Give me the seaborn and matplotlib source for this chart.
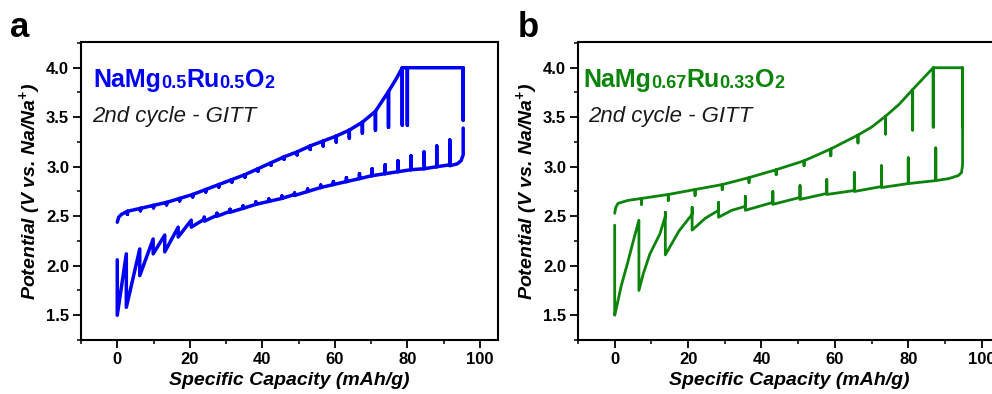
import numpy as np
import matplotlib
matplotlib.use('Agg')
import matplotlib.pyplot as plt
from matplotlib.ticker import MultipleLocator
import seaborn as sns

nan = np.nan

# ---- panel a : NaMg0.5Ru0.5O2 (blue) ----
# charge: capacity, potential at pulse end, potential after relaxation (nan = no relaxation)
a_chg_x = [0, 0.4, 1.2, 2.8, 6.4, 10.0, 13.6, 17.2, 20.8, 24.4, 28.0, 31.6, 35.2, 38.8, 42.4,
           46.0, 49.6, 53.2, 56.8, 60.4, 64.0, 67.6, 71.2, 74.8, 76.8, 78.6, 80.0, 95.4]
a_chg_v = [2.44, 2.49, 2.52, 2.55, 2.58, 2.61, 2.64, 2.68, 2.72, 2.77, 2.82, 2.87, 2.92, 2.98, 3.04,
           3.10, 3.15, 3.21, 3.26, 3.31, 3.37, 3.45, 3.56, 3.76, 3.88, 4.00, 4.00, 4.00]
a_chg_relax = [nan, nan, nan, 2.52, 2.555, 2.585, 2.615, 2.655, 2.695, 2.745, 2.795, 2.845, 2.895,
               2.955, 3.015, 3.075, 3.12, 3.175, 3.21, 3.25, 3.29, 3.34, 3.37, 3.40, nan, 3.42,
               3.42, 3.47]

# discharge (read right to left): pulse end, relaxed, start of next pulse
a_dis_x = [95.4, 95.4, 94.8, 93.8, 91.7, 88.1, 84.6, 81.0, 77.4, 73.9, 70.3, 66.8, 63.2, 59.6, 56.1,
           52.5, 48.9, 45.4, 41.8, 38.2, 34.7, 31.1, 27.5, 24.0, 20.4, 16.8, 13.1, 9.9, 6.2, 2.5, 0.0]
a_dis_v = [3.39, 3.12, 3.06, 3.03, 3.01, 3.00, 2.98, 2.97, 2.95, 2.93, 2.91, 2.88, 2.85, 2.82, 2.79,
           2.75, 2.71, 2.68, 2.65, 2.62, 2.58, 2.54, 2.50, 2.45, 2.39, 2.29, 2.14, 2.12, 1.90, 1.58, 1.50]
a_dis_relax = [nan, nan, nan, nan, 3.27, 3.21, 3.15, 3.11, 3.06, 3.02, 2.98, 2.93, 2.89, 2.85, 2.815,
               2.775, 2.735, 2.705, 2.675, 2.645, 2.605, 2.57, 2.53, 2.49, 2.46, 2.39, 2.31, 2.27,
               2.17, 2.12, 2.06]
a_dis_restart = [nan, nan, nan, nan, 3.02, 3.00, 2.98, 2.97, 2.95, 2.93, 2.91, 2.88, 2.85, 2.82, 2.79,
                 2.75, 2.72, 2.68, 2.65, 2.62, 2.58, 2.55, 2.51, 2.47, nan, nan, nan, nan, nan, nan, nan]

# ---- panel b : NaMg0.67Ru0.33O2 (green) ----
b_chg_x = [0, 0.3, 0.9, 3.6, 7.3, 14.6, 21.9, 29.3, 36.6, 44.0, 51.6, 58.9, 66.3, 70.0, 73.8,
           77.5, 81.2, 84.0, 86.8, 94.8]
b_chg_v = [2.53, 2.59, 2.63, 2.66, 2.68, 2.72, 2.77, 2.82, 2.89, 2.97, 3.06, 3.18, 3.32, 3.40, 3.51,
           3.63, 3.78, 3.89, 4.00, 4.00]
b_chg_relax = [nan, nan, nan, nan, 2.62, 2.66, 2.71, 2.77, 2.84, 2.92, 3.01, 3.11, 3.24, nan, 3.33,
               nan, 3.37, nan, 3.40, 3.40]

b_dis_x = [94.8, 94.8, 94.5, 93.6, 91.0, 87.5, 80.0, 72.7, 65.3, 57.8, 50.5, 43.1, 35.6, 31.9, 28.3,
           24.7, 21.1, 17.5, 13.8, 12.3, 9.6, 7.8, 6.6, 5.0, 3.6, 1.8, 0.5, 0.0]
b_dis_v = [3.40, 3.02, 2.94, 2.91, 2.88, 2.86, 2.83, 2.79, 2.75, 2.72, 2.67, 2.62, 2.56, 2.56, 2.49,
           2.48, 2.36, 2.35, 2.11, 2.32, 2.12, 1.92, 1.75, 2.24, 2.04, 1.80, 1.58, 1.50]
b_dis_relax = [nan, nan, nan, nan, nan, 3.19, 3.09, 3.01, 2.94, 2.87, 2.81, 2.75, 2.70, nan, 2.64,
               nan, 2.59, nan, 2.54, nan, nan, nan, 2.46, nan, nan, nan, nan, 2.41]
b_dis_restart = [nan, nan, nan, nan, nan, 2.86, 2.83, 2.80, 2.76, 2.73, 2.69, 2.64, 2.60, nan, 2.56,
                 nan, 2.52, nan, 2.50, nan, nan, nan, nan, nan, nan, nan, nan, nan]

x_ticks = [0, 20, 40, 60, 80, 100]
y_ticks = [1.5, 2.0, 2.5, 3.0, 3.5, 4.0]


def gitt_path(xs, vs, relax, restart=None):
    # join pulse ends and relaxation points into one drawing path
    px, pv = [], []
    for i in range(len(xs)):
        px.append(xs[i]); pv.append(vs[i])
        if not np.isnan(relax[i]):
            px.append(xs[i]); pv.append(relax[i])
            back = vs[i] if restart is None else restart[i]
            if not np.isnan(back):
                px.append(xs[i]); pv.append(back)
    return px, pv


sns.set_theme(style='ticks', rc={'axes.edgecolor': 'black', 'xtick.color': 'black',
                                 'ytick.color': 'black', 'text.color': 'black',
                                 'axes.labelcolor': 'black'})
plt.rcParams['font.family'] = ['Liberation Sans', 'DejaVu Sans']
plt.rcParams['mathtext.fontset'] = 'custom'
plt.rcParams['mathtext.rm'] = 'Liberation Sans:bold:italic'
plt.rcParams['mathtext.it'] = 'Liberation Sans:bold:italic'

fig = plt.figure(figsize=(9.92, 3.94), dpi=100)
ax_a = fig.add_axes([81 / 992, 54 / 394, 417 / 992, 298 / 394])
ax_b = fig.add_axes([578 / 992, 54 / 394, 422 / 992, 298 / 394])

panels = [
    (ax_a, '#0000f5', 2.5, gitt_path(a_chg_x, a_chg_v, a_chg_relax),
     gitt_path(a_dis_x, a_dis_v, a_dis_relax, a_dis_restart),
     [('NaMg', False), ('0.5', True), ('Ru', False), ('0.5', True), ('O', False), ('2', True)],
     0.029, 0.026),
    (ax_b, '#0c840c', 2.0, gitt_path(b_chg_x, b_chg_v, b_chg_relax),
     gitt_path(b_dis_x, b_dis_v, b_dis_relax, b_dis_restart),
     [('NaMg', False), ('0.67', True), ('Ru', False), ('0.33', True), ('O', False), ('2', True)],
     0.012, 0.024),
]

for ax, col, lw, chg, dis, parts, fx, cx in panels:
    for px, pv in (chg, dis):
        sns.lineplot(x=px, y=pv, sort=False, estimator=None, ax=ax, color=col, lw=lw,
                     solid_joinstyle='round', solid_capstyle='round')
    ax.set_xlim(-10, 105)
    ax.set_ylim(1.25, 4.26)
    ax.set_xticks(x_ticks, [str(t) for t in x_ticks], fontsize=12, fontweight='bold')
    ax.set_yticks(y_ticks, [f'{t:.1f}' for t in y_ticks], fontsize=12, fontweight='bold')
    ax.xaxis.set_minor_locator(MultipleLocator(10))
    ax.yaxis.set_minor_locator(MultipleLocator(0.25))
    ax.tick_params(which='major', direction='out', length=5.5, width=1.3, pad=3)
    ax.tick_params(which='minor', direction='out', length=3, width=1.1)
    for s in ax.spines.values():
        s.set_linewidth(1.5)
    ax.set_xlabel('Specific Capacity (mAh/g)', fontsize=14, fontweight='bold', style='italic',
                  labelpad=4)
    ax.set_ylabel('Potential (V vs. Na/Na$^{+}$)', fontsize=14, fontweight='bold', style='italic',
                  labelpad=2)

    # compound formula with small subscripts on the baseline
    t = ax.text(fx, 0.849, parts[0][0], transform=ax.transAxes, va='baseline', ha='left',
                fontsize=18, fontweight='bold', color=col)
    for s, sub in parts[1:]:
        t = ax.annotate(s, xy=(1, 0.846 if sub else 0.849), xycoords=(t, ax.transAxes),
                        va='baseline', ha='left', fontsize=13 if sub else 18,
                        fontweight='bold', color=col, annotation_clip=False)
    ax.text(cx, 0.733, '2nd cycle - GITT', transform=ax.transAxes, va='baseline', ha='left',
            fontsize=16, style='italic', color='#1a1a1a')

fig.text(10 / 992, 1 - 37 / 394, 'a', fontsize=25, fontweight='bold', va='baseline')
fig.text(518 / 992, 1 - 37 / 394, 'b', fontsize=25, fontweight='bold', va='baseline')

fig.savefig('out.png', dpi=100)
